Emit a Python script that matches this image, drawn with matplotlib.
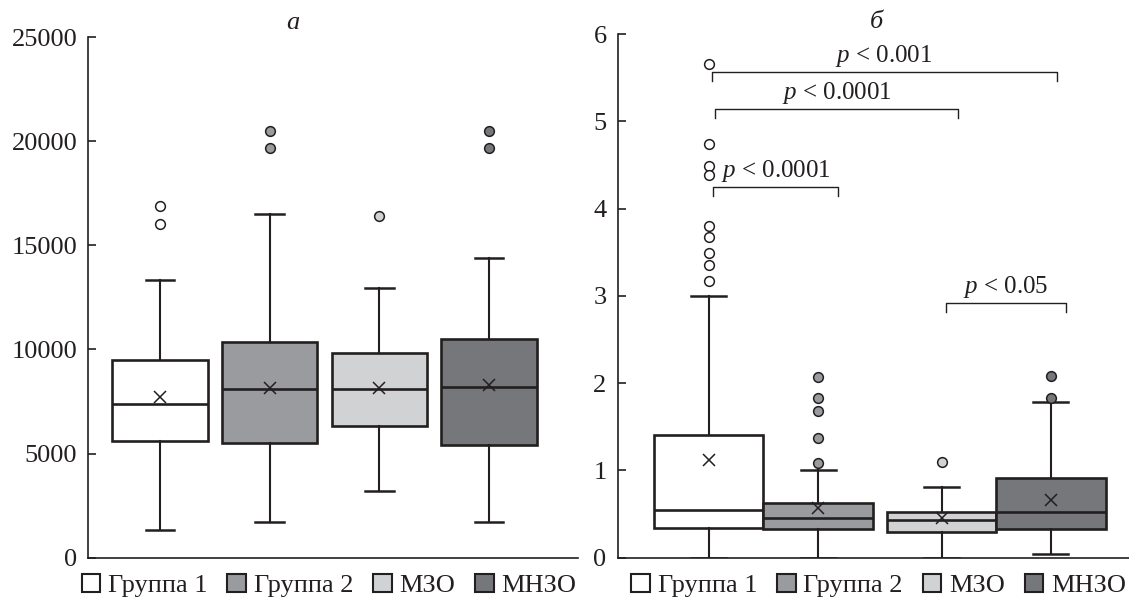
import matplotlib
matplotlib.use("Agg")
import matplotlib.pyplot as plt
from matplotlib.patches import Patch

plt.rcParams['font.family'] = ['Liberation Serif', 'DejaVu Serif']
plt.rcParams['mathtext.fontset'] = 'custom'
plt.rcParams['mathtext.rm'] = 'Liberation Serif'
plt.rcParams['mathtext.it'] = 'Liberation Serif:italic'

# groups and colours
groups = ['Группа 1', 'Группа 2', 'МЗО', 'МНЗО']
fills = ['#ffffff', '#9a9b9e', '#d1d2d4', '#76777a']
edge = '#231f20'

# panel a
a_whislo = [1310, 1730, 3215, 1730]
a_q1 = [5610, 5520, 6300, 5420]
a_med = [7360, 8120, 8120, 8200]
a_mean = [7730, 8170, 8170, 8290]
a_q3 = [9490, 10350, 9850, 10520]
a_whishi = [13330, 16490, 12960, 14380]
a_fliers = [[16910, 16040], [20480, 19690], [16430], [20480, 19690]]
a_pos = [1, 2, 3, 4]

# panel b
b_whislo = [0, 0, 0, 0.04]
b_q1 = [0.337, 0.33, 0.29, 0.33]
b_med = [0.543, 0.45, 0.43, 0.52]
b_mean = [1.12, 0.57, 0.455, 0.66]
b_q3 = [1.41, 0.63, 0.52, 0.91]
b_whishi = [3.0, 1.0, 0.81, 1.78]
b_fliers = [[5.655, 4.735, 4.49, 4.39, 3.80, 3.67, 3.49, 3.35, 3.17],
            [2.07, 1.83, 1.68, 1.37, 1.09], [1.10], [2.08, 1.83]]
b_pos = [1, 2, 3.13, 4.13]

# significance brackets (x1, x2, y, label, label x, label y)
br_x1 = [1.025, 1.06, 1.04, 3.17]
br_x2 = [4.19, 3.28, 2.18, 4.27]
br_y = [5.565, 5.14, 4.244, 2.92]
br_text = ['$p$ < 0.001', '$p$ < 0.0001', '$p$ < 0.0001', '$p$ < 0.05']
br_tx = [2.60, 2.17, 1.61, 3.72]
br_ty = [5.676, 5.256, 4.365, 3.033]


def make_stats(whislo, q1, med, mean, q3, whishi, fliers):
    stats = []
    for i in range(len(med)):
        stats.append({'whislo': whislo[i], 'q1': q1[i], 'med': med[i], 'mean': mean[i],
                      'q3': q3[i], 'whishi': whishi[i], 'fliers': fliers[i]})
    return stats


def draw_boxes(ax, stats, pos, width, capw):
    for i in range(len(stats)):
        ax.bxp([stats[i]], positions=[pos[i]], widths=width, capwidths=capw,
               showmeans=True, patch_artist=True,
               boxprops=dict(facecolor=fills[i], edgecolor=edge, linewidth=1.9),
               medianprops=dict(color=edge, linewidth=1.9),
               whiskerprops=dict(color=edge, linewidth=1.5),
               capprops=dict(color=edge, linewidth=1.8),
               meanprops=dict(marker='x', markeredgecolor=edge, markersize=8, markeredgewidth=1.1),
               flierprops=dict(marker='o', markerfacecolor=fills[i], markeredgecolor=edge,
                               markersize=7, markeredgewidth=1.1))


def style_axis(ax):
    ax.spines['top'].set_visible(False)
    ax.spines['right'].set_visible(False)
    ax.spines['left'].set_linewidth(1.2)
    ax.spines['bottom'].set_linewidth(1.2)
    ax.spines['left'].set_color(edge)
    ax.spines['bottom'].set_color(edge)
    ax.set_xticks([])
    ax.tick_params(axis='y', direction='in', length=6, width=1.2, labelsize=19, pad=8, colors=edge)


fig = plt.figure(figsize=(11.29, 5.98), dpi=100)
ax1 = fig.add_axes([0.0782, 0.0674, 0.4335, 0.8707])
ax2 = fig.add_axes([0.5471, 0.0674, 0.4529, 0.8757])

draw_boxes(ax1, make_stats(a_whislo, a_q1, a_med, a_mean, a_q3, a_whishi, a_fliers), a_pos, 0.87, 0.26)
ax1.set_xlim(0.346, 4.81)
ax1.set_ylim(0, 25000)
ax1.set_yticks([0, 5000, 10000, 15000, 20000, 25000])
style_axis(ax1)

draw_boxes(ax2, make_stats(b_whislo, b_q1, b_med, b_mean, b_q3, b_whishi, b_fliers), b_pos, 1.0, 0.32)
ax2.set_xlim(0.166, 4.845)
ax2.set_ylim(0, 6)
ax2.set_yticks([0, 1, 2, 3, 4, 5, 6])
style_axis(ax2)

# brackets with p-values
for i in range(len(br_y)):
    drop = 0.1
    ax2.plot([br_x1[i], br_x1[i], br_x2[i], br_x2[i]],
             [br_y[i] - drop, br_y[i], br_y[i], br_y[i] - drop],
             color=edge, linewidth=1.0)
    ax2.text(br_tx[i], br_ty[i], br_text[i], ha='center', va='baseline', fontsize=18, color=edge)

# panel letters
fig.text(0.2595, 0.962, 'а', fontsize=19, style='italic', ha='center', va='center', color=edge)
fig.text(0.776, 0.9637, 'б', fontsize=19, style='italic', ha='center', va='center', color=edge)

# legends
handles = [Patch(facecolor=fills[i], edgecolor=edge, linewidth=1.5, label=groups[i]) for i in range(4)]
for cx in [329.2 / 1129, 878.8 / 1129]:
    fig.legend(handles=handles, loc='center', bbox_to_anchor=(cx, 0.021), ncol=4, frameon=False,
               fontsize=19, handlelength=0.7, handleheight=0.7, handletextpad=0.3,
               columnspacing=0.75, borderaxespad=0, borderpad=0, labelcolor=edge)

fig.savefig('out.png', dpi=100)
